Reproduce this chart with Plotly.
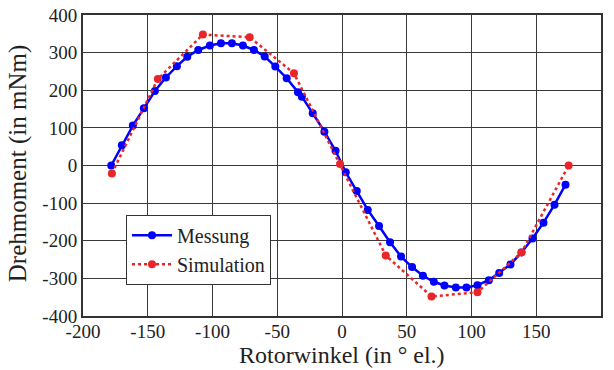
import plotly.graph_objects as go

mess_x = [-178.2, -170, -161.5, -153, -144.5, -136, -127.5, -119.5, -111, -102, -93.5, -85, -76.5, -68,
          -59.7, -51.5, -42.7, -34, -31, -22.6, -13.6, -5, 2.9, 11.4, 19.9, 28.6, 37.1, 45.6, 54.1, 62.5,
          70.9, 79.1, 87.9, 96.1, 104.6, 113.4, 121.4, 130.1, 138.6, 147.1, 155.6, 164.1, 172.6]
mess_y = [0, 54, 106, 152, 198, 234, 264, 289, 307, 319, 325, 325, 319, 307,
          290, 263, 232, 195, 183, 139, 90, 39, -18, -68, -118, -161, -204, -242, -270, -293,
          -309, -319, -324, -324, -318, -305, -286, -263, -231, -194, -152, -104, -51]

sim_x = [-177.7, -142.2, -107.4, -71.3, -37.1, -1.5, 33.8, 69.1, 104.6, 138.6, 175]
sim_y = [-21, 230, 348, 341, 245, 4, -239, -348, -337, -231, 0]

xticks = [-200, -150, -100, -50, 0, 50, 100, 150, 200]
yticks = [-400, -300, -200, -100, 0, 100, 200, 300, 400]

x_title = "Rotorwinkel (in ° el.)"
y_title = "Drehmoment (in mNm)"

font = "Liberation Serif, Times New Roman, serif"

fig = go.Figure()
fig.add_trace(go.Scatter(x=mess_x, y=mess_y, mode="lines+markers", name="Messung",
                         line=dict(color="#0000ff", width=2.5),
                         marker=dict(color="#0000ff", size=8)))
fig.add_trace(go.Scatter(x=sim_x, y=sim_y, mode="lines+markers", name="Simulation",
                         line=dict(color="#e8262a", width=2.5, dash="dot"),
                         marker=dict(color="#e8262a", size=8)))

axis_common = dict(showgrid=True, gridcolor="#3a3a3a", gridwidth=1.2,
                   showline=True, linecolor="#333333", linewidth=2, mirror=True,
                   zeroline=False, ticks="", automargin=False,
                   tickfont=dict(family=font, size=19, color="#222222"))

fig.update_layout(
    width=614, height=370,
    margin=dict(l=83, r=13, t=15, b=54),
    paper_bgcolor="white", plot_bgcolor="white",
    font=dict(family=font, color="#222222"),
    xaxis=dict(range=[-200, 200], tickvals=xticks, ticktext=[str(v) for v in xticks],
               **axis_common),
    yaxis=dict(range=[-400, 400], tickvals=yticks, ticktext=[str(v) for v in yticks],
               **axis_common),
    showlegend=True,
    legend=dict(x=0.083, y=0.336, xanchor="left", yanchor="top",
                bgcolor="white", bordercolor="#333333", borderwidth=1,
                font=dict(family=font, size=20, color="#222222"),
                tracegroupgap=0, itemwidth=40, entrywidth=160),
    annotations=[
        dict(text=x_title, xref="paper", yref="paper", x=0.5, y=-0.128,
             xanchor="center", yanchor="middle", showarrow=False,
             font=dict(family=font, size=24, color="#222222")),
        dict(text=y_title, xref="paper", yref="paper", x=-0.125, y=0.505,
             xanchor="center", yanchor="middle", showarrow=False, textangle=-90,
             font=dict(family=font, size=25, color="#222222")),
    ],
)

try:
    fig.update_xaxes(ticklabelstandoff=-3)
except Exception:
    pass

fig.write_html("out.html")
